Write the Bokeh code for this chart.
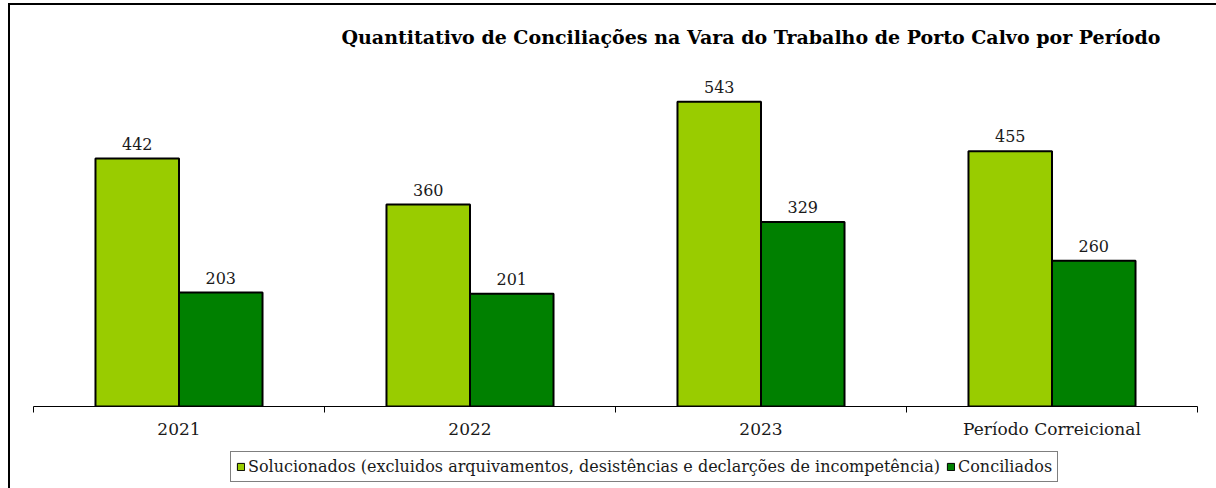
from bokeh.plotting import figure
from bokeh.layouts import column
from bokeh.models import ColumnDataSource, FixedTicker, Legend, LegendItem, Range1d
from bokeh.transform import dodge
from bokeh.core.properties import value
from bokeh.embed import file_html
from bokeh.resources import INLINE

categories = ["2021", "2022", "2023", "Período Correicional"]
solucionados = [442, 360, 543, 455]
conciliados = [203, 201, 329, 260]
title_text = "Quantitativo de Conciliações na Vara do Trabalho de Porto Calvo por Período"
label_sol = "Solucionados (excluidos arquivamentos, desistências e declarções de incompetência)"
label_con = "Conciliados"

LIGHT = "#99CC00"
DARK = "#008000"
SERIF = "DejaVu Serif"
TXT = "#1a1a1a"

n = len(categories)
xc = [i + 0.5 for i in range(n)]
src = ColumnDataSource(dict(
    x=xc, sol=solucionados, con=conciliados,
    sol_t=[str(v) for v in solucionados], con_t=[str(v) for v in conciliados],
))

W = 1206
p = figure(width=W, height=443, output_backend="svg", toolbar_location=None,
           x_range=Range1d(0, n), y_range=Range1d(0, 631),
           min_border_left=23, min_border_right=19, min_border_top=47, min_border_bottom=42)

p.title.text = title_text
p.title.text_font = SERIF
p.title.text_font_style = "bold"
p.title.text_font_size = "19px"
p.title.text_color = "black"
p.title.align = "right"
p.title.offset = 37

w = 0.287
p.vbar(x=dodge("x", -w / 2), top="sol", width=w, source=src,
       fill_color=LIGHT, line_color="black", line_width=2)
p.vbar(x=dodge("x", w / 2), top="con", width=w, source=src,
       fill_color=DARK, line_color="black", line_width=2)

for col, t, off in (("sol", "sol_t", -w / 2), ("con", "con_t", w / 2)):
    p.text(x=dodge("x", off), y=col, text=t, source=src, text_align="center",
           text_baseline="bottom", y_offset=-9, text_font=value(SERIF),
           text_font_size="16px", text_color=TXT)

p.yaxis.visible = False
p.grid.visible = False
p.outline_line_color = None

ax = p.xaxis[0]
ax.ticker = FixedTicker(ticks=xc, minor_ticks=list(range(n + 1)))
ax.major_label_overrides = {x: c for x, c in zip(xc, categories)}
ax.major_tick_out = 0
ax.major_tick_in = 0
ax.minor_tick_out = 6
ax.minor_tick_in = 0
ax.axis_line_color = "black"
ax.minor_tick_line_color = "black"
ax.major_label_text_font = SERIF
ax.major_label_text_font_size = "17px"
ax.major_label_text_color = TXT
ax.major_label_standoff = 6

# legend strip (swatches come from renderers kept far outside the visible range)
q = figure(width=W, height=40, output_backend="svg", toolbar_location=None,
           x_range=Range1d(0, n), y_range=Range1d(10000, 10010),
           min_border_left=0, min_border_right=0, min_border_top=0, min_border_bottom=0)
q.axis.visible = False
q.grid.visible = False
q.outline_line_color = None
r1 = q.vbar(x="x", top="sol", width=w, source=src,
            fill_color=LIGHT, line_color="black", line_width=1)
r2 = q.vbar(x="x", top="con", width=w, source=src,
            fill_color=DARK, line_color="black", line_width=1)

legend = Legend(items=[LegendItem(label=label_sol, renderers=[r1]),
                       LegendItem(label=label_con, renderers=[r2])],
                orientation="horizontal", location=(197, 6),
                border_line_color="black", border_line_width=1,
                label_text_font=SERIF, label_text_font_size="16px",
                label_text_color=TXT,
                glyph_width=9, glyph_height=9, spacing=6, padding=5,
                label_standoff=3, margin=0)
q.add_layout(legend, "center")

lay = column(p, q, spacing=0)
lay.styles = {"margin-left": "8px", "margin-top": "3px",
              "border-left": "2px solid black", "border-top": "2px solid black"}

open("out.html", "w").write(file_html(lay, INLINE))
